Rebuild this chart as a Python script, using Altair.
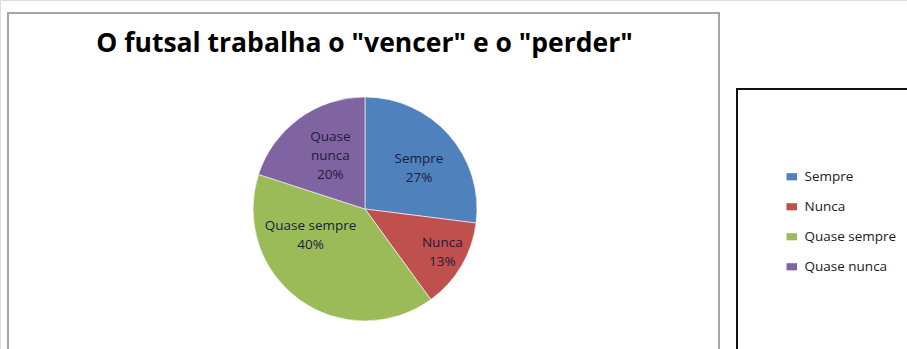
import altair as alt
import pandas as pd

# Survey answers and their share of responses (%)
categories = ["Sempre", "Nunca", "Quase sempre", "Quase nunca"]
values = [27, 13, 40, 20]
slice_labels = ["Sempre\n27%", "Nunca\n13%", "Quase sempre\n40%", "Quase\nnunca\n20%"]
colors = ["#4F81BD", "#C0504D", "#9BBB59", "#8064A2"]

df = pd.DataFrame({
    "categoria": categories,
    "valor": values,
    "rotulo": slice_labels,
    "ordem": list(range(len(categories))),
})

CX, CY, R = 365, 209, 112
FONT = "Open Sans"

theta_scale = alt.Scale(domain=[0, 100])
color_scale = alt.Scale(domain=categories, range=colors)

base = alt.Chart(df)

pie = base.mark_arc(outerRadius=R, stroke="white", strokeWidth=0.6).encode(
    x=alt.value(CX),
    y=alt.value(CY),
    theta=alt.Theta("valor:Q", stack=True, scale=theta_scale),
    order=alt.Order("ordem:Q"),
    color=alt.Color(
        "categoria:N",
        scale=color_scale,
        sort=categories,
        legend=alt.Legend(
            title=None,
            orient="none",
            legendX=785,
            legendY=170,
            symbolType="M-1,-0.68H1V0.68H-1Z",
            symbolSize=110,
            symbolStrokeWidth=0,
            labelFont=FONT,
            labelFontSize=13.5,
            labelColor="#1a1a1a",
            labelOffset=6,
            rowPadding=15,
        ),
    ),
)

# label placement per slice: (radius from centre, dx, dy) around the slice mid-angle
placement = {
    "Sempre": (72, 0, -2),
    "Nunca": (84, 5, -9),
    "Quase sempre": (62, -18, -33),
    "Quase nunca": (64, 3, -20),
}

stacked = base.transform_window(
    fim="sum(valor)", sort=[alt.SortField("ordem")], frame=[None, 0]
).transform_calculate(meio="datum.fim - datum.valor / 2")

label_layers = []
for cat, (rad, ddx, ddy) in placement.items():
    label_layers.append(
        stacked.transform_filter(alt.datum.categoria == cat)
        .mark_text(
            radius=rad, dx=ddx, dy=ddy, font=FONT, fontSize=13.5, lineBreak="\n",
            lineHeight=19, align="center", baseline="middle", color="#1c1c3a",
        )
        .encode(
            x=alt.value(CX),
            y=alt.value(CY),
            theta=alt.Theta("meio:Q", scale=theta_scale),
            text="rotulo:N",
        )
    )

# chart frame and legend box
frame = base.mark_rect(fill=None, stroke="#a6a6a6", strokeWidth=2).encode(
    x=alt.value(8), x2=alt.value(719), y=alt.value(13), y2=alt.value(380)
)
legend_box = base.mark_rect(fill=None, stroke="#111111", strokeWidth=2).encode(
    x=alt.value(737), x2=alt.value(940), y=alt.value(89), y2=alt.value(380)
)

chart = alt.layer(frame, legend_box, pie, *label_layers).properties(
    width=907,
    height=349,
    autosize="none",
    padding=0,
    title=alt.TitleParams(
        text='O futsal trabalha o "vencer" e o "perder"',
        font=FONT,
        fontSize=26.5,
        fontWeight="bold",
        color="#000000",
        anchor="middle",
        frame="group",
        baseline="middle",
        offset=0,
        dx=-89,
        dy=70,
    ),
).configure_view(stroke=None).configure(background="white")

chart.save("out.html", embed_options={"renderer": "svg", "actions": False})
